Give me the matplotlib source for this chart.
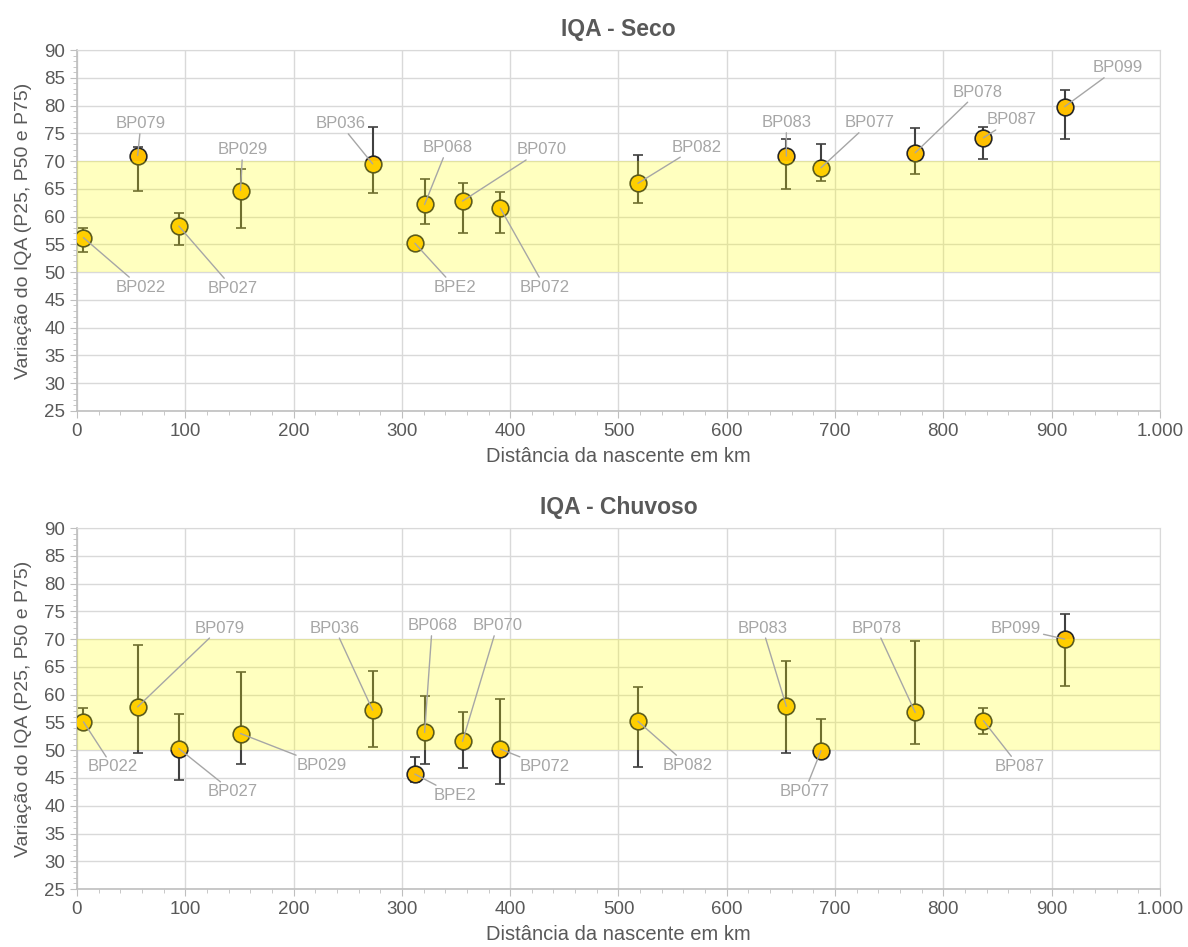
# %% Imports

import numpy as np
import matplotlib
matplotlib.use("Agg")
import matplotlib.pyplot as plt
from matplotlib.ticker import MultipleLocator, FuncFormatter


# %% Data

stations = ["BP022", "BP079", "BP027", "BP029", "BP036", "BPE2", "BP068",
            "BP070", "BP072", "BP082", "BP083", "BP077", "BP078", "BP087",
            "BP099"]

# distance from the source (km)
dist_km = [6, 56, 94, 151, 273, 312, 321, 356, 391, 518, 655, 687, 774, 837, 912]

# Dry season: P50, P25, P75
seco_p50 = [56.2, 71.0, 58.3, 64.7, 69.5, 55.2, 62.2, 62.8, 61.5, 66.0, 70.9, 68.8, 71.5, 74.2, 79.8]
seco_p25 = [53.6, 64.6, 54.9, 58.0, 64.2, 55.2, 58.7, 57.0, 57.0, 62.4, 64.9, 66.4, 67.7, 70.4, 73.9]
seco_p75 = [58.0, 72.5, 60.6, 68.6, 76.1, 55.2, 66.8, 66.0, 64.5, 71.1, 73.9, 73.1, 75.9, 76.2, 82.8]

# Rainy season: P50, P25, P75
chuv_p50 = [55.1, 57.8, 50.3, 53.0, 57.2, 45.7, 53.2, 51.6, 50.2, 55.2, 57.9, 49.9, 56.8, 55.3, 70.0]
chuv_p25 = [53.8, 49.5, 44.6, 47.5, 50.5, 44.3, 47.5, 46.8, 44.0, 47.0, 49.5, 49.0, 51.1, 53.0, 61.6]
chuv_p75 = [57.6, 68.9, 56.5, 64.0, 64.3, 48.7, 59.8, 56.8, 59.2, 61.3, 66.1, 55.7, 69.7, 57.6, 74.6]

# label anchor positions (data coords) - layout only
seco_lbl_x = [59, 59, 144, 153, 243, 349, 342, 429, 432, 572, 655, 732, 832, 863, 961]
seco_lbl_y = [47.3, 76.7, 47.1, 72.0, 76.7, 47.3, 72.4, 72.0, 47.3, 72.5, 76.9, 76.9, 82.4, 77.4, 86.8]
chuv_lbl_x = [33, 132, 144, 226, 238, 349, 328, 388, 432, 564, 633, 672, 738, 870, 867]
chuv_lbl_y = [47.0, 72.0, 42.5, 47.3, 72.0, 41.9, 72.4, 72.4, 47.0, 47.3, 72.0, 42.6, 72.0, 47.1, 72.0]

band_low, band_high = 50, 70

TXT = "#595959"
LBL = "#a6a6a6"

plt.rcParams["font.family"] = ["Liberation Sans", "DejaVu Sans"]


# %% Plot

def draw_panel(ax, title, p50, p25, p75, lx, ly):
    p50 = np.array(p50)
    err = [p50 - np.array(p25), np.array(p75) - p50]
    ax.errorbar(dist_km, p50, yerr=err, fmt="o", color="#404040",
                ecolor="#404040", elinewidth=1.5, capsize=3.5, capthick=1.5,
                markersize=12, markerfacecolor="#FFC000",
                markeredgecolor="#262626", markeredgewidth=1.2, zorder=3)

    # semi-transparent reference band drawn on top, like the original
    ax.axhspan(band_low, band_high, color="#FFFF00", alpha=0.25, lw=0, zorder=5)

    for name, x, y, tx, ty in zip(stations, dist_km, p50, lx, ly):
        ax.annotate(name, xy=(x, y), xytext=(tx, ty), fontsize=12, color=LBL,
                    ha="center", va="center", zorder=6,
                    bbox=dict(boxstyle="square,pad=0.15", fc="none", ec="none"),
                    arrowprops=dict(arrowstyle="-", color=LBL, lw=1.0,
                                    shrinkA=0, shrinkB=0))

    ax.set_xlim(0, 1000)
    ax.set_ylim(25, 90)
    ax.xaxis.set_major_locator(MultipleLocator(100))
    ax.xaxis.set_minor_locator(MultipleLocator(20))
    ax.yaxis.set_major_locator(MultipleLocator(5))
    ax.yaxis.set_minor_locator(MultipleLocator(1))
    ax.xaxis.set_major_formatter(FuncFormatter(lambda v, p: f"{v:,.0f}".replace(",", ".")))

    ax.grid(True, which="major", color="#d9d9d9", lw=1.0, zorder=0)
    ax.set_axisbelow(True)
    for s in ["top", "right"]:
        ax.spines[s].set_color("#d9d9d9")
    for s in ["left", "bottom"]:
        ax.spines[s].set_color("#bfbfbf")
        ax.spines[s].set_linewidth(1.2)

    ax.tick_params(which="major", length=5, color="#bfbfbf", labelsize=13.5,
                   labelcolor=TXT)
    ax.tick_params(which="minor", length=3, color="#bfbfbf")

    ax.set_title(title, fontsize=16.5, fontweight="bold", color=TXT, pad=10)
    ax.set_xlabel("Distância da nascente em km", fontsize=14.5, color=TXT, labelpad=5)
    ax.set_ylabel("Variação do IQA (P25, P50 e P75)", fontsize=14, color=TXT, labelpad=9)


fig = plt.figure(figsize=(11.88, 9.47), dpi=100)
ax1 = fig.add_axes([0.0648, 0.566, 0.9116, 0.3812])
ax2 = fig.add_axes([0.0648, 0.0612, 0.9116, 0.3812])

draw_panel(ax1, "IQA - Seco", seco_p50, seco_p25, seco_p75, seco_lbl_x, seco_lbl_y)
draw_panel(ax2, "IQA - Chuvoso", chuv_p50, chuv_p25, chuv_p75, chuv_lbl_x, chuv_lbl_y)

fig.savefig("out.png", dpi=100)
